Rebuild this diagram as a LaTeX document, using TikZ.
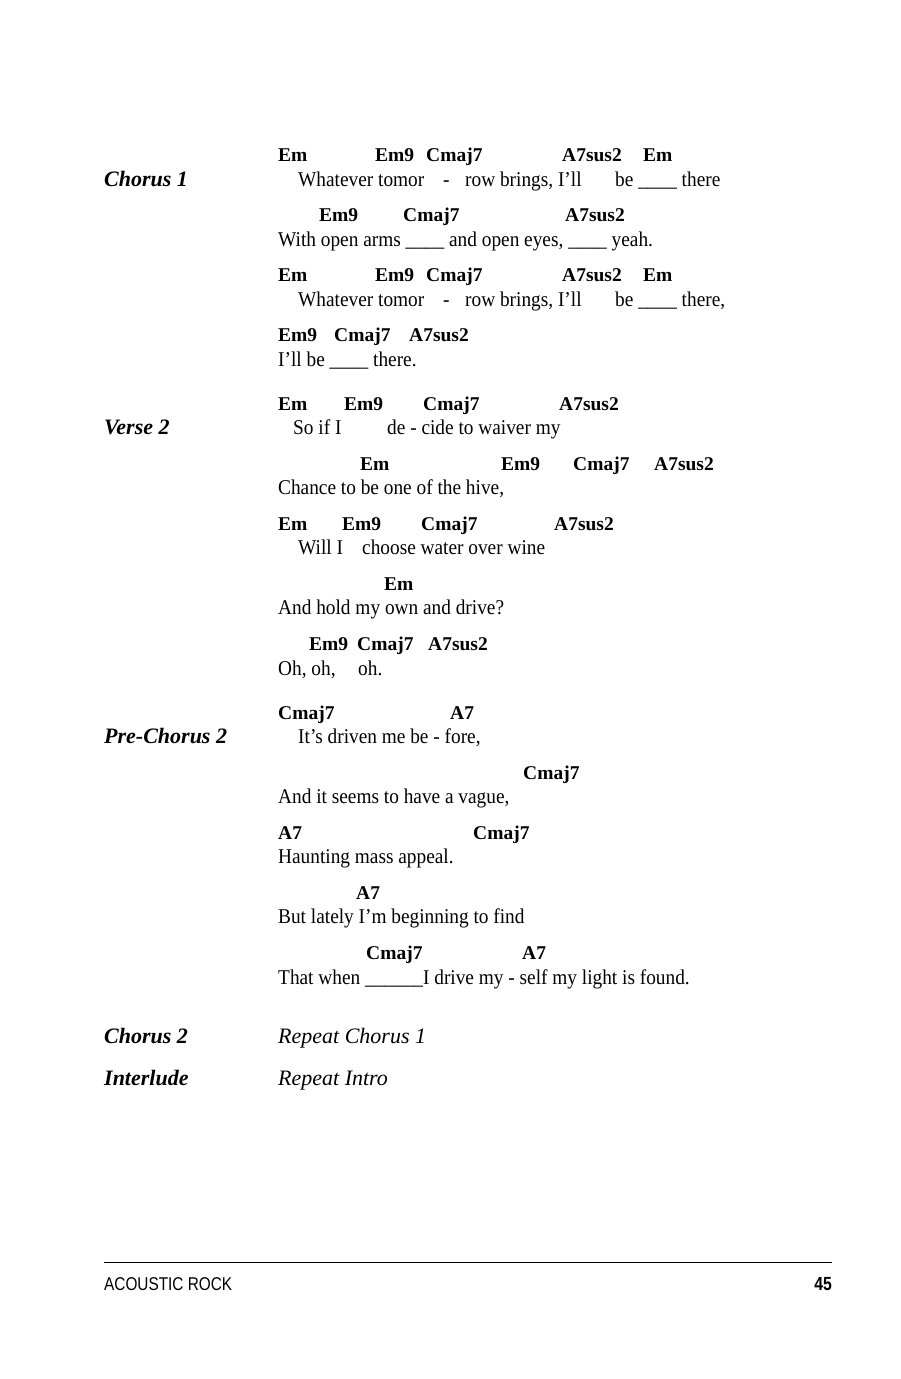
\documentclass[tikz,border=0pt]{standalone}
\usepackage{fontspec}
\setmainfont{Liberation Serif}
\newfontfamily\lyr[FakeStretch=0.92]{Liberation Serif}
\newfontfamily\foot[FakeStretch=0.83]{Liberation Sans}
\begin{document}
\begin{tikzpicture}[x=1pt,y=-1pt,
  ch/.style={anchor=base west,inner sep=0pt,font=\fontsize{19.5}{19.5}\selectfont\bfseries},
  ly/.style={anchor=base west,inner sep=0pt,font=\fontsize{21}{21}\lyr},
  lab/.style={anchor=base west,inner sep=0pt,font=\fontsize{22}{22}\selectfont\bfseries\itshape},
  rep/.style={anchor=base west,inner sep=0pt,font=\fontsize{22}{22}\selectfont\itshape}]
\useasboundingbox[fill=white] (0,0) rectangle (900,1379);
% Chorus 1
\node[lab] (l1) at (104,186) {Chorus 1};
\foreach \t/\x [count=\i] in {Em/278,Em9/375,Cmaj7/426,A7sus2/562,Em/643}
  \node[ch] (a\i) at (\x,161) {\t};
\node[ly] (b1) at (298,186) {Whatever tomor};
\node[ly] (b2) at (443,186) {-};
\node[ly] (b3) at (465,186) {row brings, I’ll};
\node[ly] (b4) at (615,186) {be \_\_\_\_ there};
\foreach \t/\x [count=\i] in {Em9/319,Cmaj7/403,A7sus2/565}
  \node[ch] (c\i) at (\x,221) {\t};
\node[ly] (d1) at (278,246) {With open arms \_\_\_\_ and open eyes, \_\_\_\_ yeah.};
\foreach \t/\x [count=\i] in {Em/278,Em9/375,Cmaj7/426,A7sus2/562,Em/643}
  \node[ch] (e\i) at (\x,281) {\t};
\node[ly] (f1) at (298,306) {Whatever tomor};
\node[ly] (f2) at (443,306) {-};
\node[ly] (f3) at (465,306) {row brings, I’ll};
\node[ly] (f4) at (615,306) {be \_\_\_\_ there,};
\foreach \t/\x [count=\i] in {Em9/278,Cmaj7/334,A7sus2/409}
  \node[ch] (g\i) at (\x,341) {\t};
\node[ly] (h1) at (278,366) {I’ll be \_\_\_\_ there.};
% Verse 2
\node[lab] (l2) at (104,434) {Verse 2};
\foreach \t/\x [count=\i] in {Em/278,Em9/344,Cmaj7/423,A7sus2/559}
  \node[ch] (i\i) at (\x,410) {\t};
\node[ly] (j1) at (293,434) {So if I};
\node[ly] (j2) at (387,434) {de - cide to waiver my};
\foreach \t/\x [count=\i] in {Em/360,Em9/501,Cmaj7/573,A7sus2/654}
  \node[ch] (k\i) at (\x,470) {\t};
\node[ly] (m1) at (278,494) {Chance to be one of the hive,};
\foreach \t/\x [count=\i] in {Em/278,Em9/342,Cmaj7/421,A7sus2/554}
  \node[ch] (n\i) at (\x,530) {\t};
\node[ly] (o1) at (298,554) {Will I};
\node[ly] (o2) at (362,554) {choose water over wine};
\node[ch] (p1) at (384,590) {Em};
\node[ly] (q1) at (278,614) {And hold my own and drive?};
\foreach \t/\x [count=\i] in {Em9/309,Cmaj7/357,A7sus2/428}
  \node[ch] (r\i) at (\x,650) {\t};
\node[ly] (s1) at (278,675) {Oh, oh,};
\node[ly] (s2) at (358,675) {oh.};
% Pre-Chorus 2
\node[lab] (l3) at (104,743) {Pre-Chorus 2};
\node[ch] (t1) at (278,719) {Cmaj7};
\node[ch] (t2) at (450,719) {A7};
\node[ly] (u1) at (298,743) {It’s driven me be - fore,};
\node[ch] (v1) at (523,779) {Cmaj7};
\node[ly] (w1) at (278,803) {And it seems to have a vague,};
\node[ch] (x1) at (278,839) {A7};
\node[ch] (x2) at (473,839) {Cmaj7};
\node[ly] (y1) at (278,863) {Haunting mass appeal.};
\node[ch] (z1) at (356,899) {A7};
\node[ly] (z2) at (278,923) {But lately I’m beginning to find};
\node[ch] (aa1) at (366,959) {Cmaj7};
\node[ch] (aa2) at (522,959) {A7};
\node[ly] (bb1) at (278,984) {That when \_\_\_\_\_\_I drive my - self my light is found.};
% Chorus 2, Interlude
\node[lab] (l4) at (104,1043) {Chorus 2};
\node[rep] (cc1) at (278,1043) {Repeat Chorus 1};
\node[lab] (l5) at (104,1085) {Interlude};
\node[rep] (cc2) at (278,1085) {Repeat Intro};
% footer
\coordinate (r1) at (104,1262);
\coordinate (r2) at (832,1262);
\draw[line width=0.8pt] (r1) -- (r2);
\node[anchor=base west,inner sep=0pt,font=\fontsize{18.5}{18.5}\foot] (ft) at (104,1290) {ACOUSTIC ROCK};
\node[anchor=base east,inner sep=0pt,font=\fontsize{19}{19}\foot\bfseries] (pg) at (832,1290) {45};
\end{tikzpicture}
\end{document}
